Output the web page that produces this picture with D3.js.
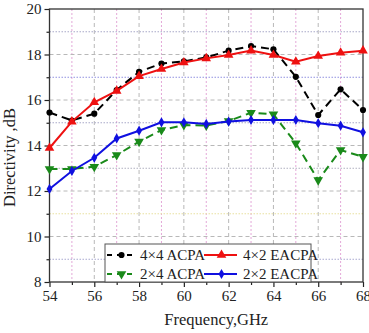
<!DOCTYPE html>
<html><head><meta charset="utf-8">
<script src="https://cdn.jsdelivr.net/npm/d3@7/dist/d3.min.js"></script>
<style>body{margin:0;background:#fff}svg{display:block}</style>
</head><body>
<script>
const freq = [54,55,56,57,58,59,60,61,62,63,64,65,66,67,68];
const acpa44 = [15.45,15.1,15.4,16.44,17.24,17.6,17.7,17.87,18.17,18.37,18.23,17.02,15.34,16.47,15.56];
const eacpa42 = [13.89,15.05,15.9,16.4,17.05,17.36,17.65,17.83,17.98,18.17,17.98,17.68,17.93,18.08,18.17];
const acpa24 = [12.97,12.97,13.07,13.58,14.17,14.68,14.9,14.88,15.08,15.44,15.37,14.1,12.48,13.8,13.5];
const eacpa22 = [12.09,12.88,13.46,14.31,14.65,15.02,15.02,14.95,15.05,15.12,15.12,15.12,14.98,14.87,14.58];
const xTicks = [54,56,58,60,62,64,66,68];
const yTicks = [8,10,12,14,16,18,20];
const seriesNames = ["4×4 ACPA","4×2 EACPA","2×4 ACPA","2×2 EACPA"];

const W=369,H=333;
const L=49.5,R=363,T=9,B=282;
const svg=d3.select("body").append("svg").attr("width",W).attr("height",H);
const x=d3.scaleLinear().domain([54,68]).range([L,R]);
const y=d3.scaleLinear().domain([8,20]).range([B,T]);

// grid
const gx=svg.append("g");
d3.range(55,68,1).forEach(v=>{
  const odd=v%2===1;
  gx.append("line").attr("x1",x(v)).attr("x2",x(v)).attr("y1",T).attr("y2",B)
    .attr("stroke",odd?"#e4a8d8":"#b8b8b8").attr("stroke-width",1)
    .attr("stroke-dasharray",odd?"2,2":"4,3");
});
const hcol={19:"#a8a8c8",17:"#9090e0",15:"#a8a8c8",13:"#b0b0c0",11:"#e8e0a0",9:"#a8a8d0"};
d3.range(9,20,1).forEach(v=>{
  const odd=v%2===1;
  gx.append("line").attr("x1",L).attr("x2",R).attr("y1",y(v)).attr("y2",y(v))
    .attr("stroke",odd?hcol[v]:"#b8b8b8").attr("stroke-width",1)
    .attr("stroke-dasharray",odd?"1.5,1.5":"4,3");
});

// axes
const font="'Liberation Serif','Times New Roman',serif";
const ax=svg.append("g").attr("transform",`translate(0,${B})`)
  .call(d3.axisBottom(x).tickValues(xTicks).tickSize(5).tickPadding(3).tickFormat(d3.format("d")));
const axm=svg.append("g").attr("transform",`translate(0,${B})`)
  .call(d3.axisBottom(x).tickValues(d3.range(55,68,2)).tickSize(3).tickFormat(""));
const ay=svg.append("g").attr("transform",`translate(${L},0)`)
  .call(d3.axisLeft(y).tickValues(yTicks).tickSize(5).tickPadding(3).tickFormat(d3.format("d")));
const aym=svg.append("g").attr("transform",`translate(${L},0)`)
  .call(d3.axisLeft(y).tickValues(d3.range(9,20,2)).tickSize(3).tickFormat(""));
[ax,axm,ay,aym].forEach(a=>{
  a.select(".domain").remove();
  a.selectAll("line").attr("stroke","#222").attr("stroke-width",1.2);
  a.selectAll("text").attr("font-family",font).attr("font-size",15).attr("fill","#222");
});
svg.append("rect").attr("x",L).attr("y",T).attr("width",R-L).attr("height",B-T)
  .attr("fill","none").attr("stroke","#333").attr("stroke-width",1.3);

// series
const line=d3.line().x((d,i)=>x(freq[i])).y(d=>y(d));
const S=[
  {name:seriesNames[0],data:acpa44,color:"#000000",dash:"8,5",sym:d3.symbolCircle,size:30},
  {name:seriesNames[1],data:eacpa42,color:"#ee1111",dash:null,sym:d3.symbolTriangle,size:40},
  {name:seriesNames[2],data:acpa24,color:"#1a8a1a",dash:"8,5",sym:d3.symbolTriangle,size:40,rot:180},
  {name:seriesNames[3],data:eacpa22,color:"#1010e0",dash:null,sym:d3.symbolDiamond,size:30}
];
const drawOrder=[0,2,3,1];
drawOrder.forEach(k=>{
  const s=S[k];
  const g=svg.append("g");
  g.append("path").attr("d",line(s.data)).attr("fill","none").attr("stroke",s.color)
    .attr("stroke-width",2).attr("stroke-dasharray",s.dash);
  g.selectAll("path.m").data(s.data).join("path").attr("class","m")
    .attr("d",d3.symbol().type(s.sym).size(s.size))
    .attr("transform",(d,i)=>`translate(${x(freq[i])},${y(d)}) rotate(${s.rot||0})`)
    .attr("fill",s.color);
});

// legend
const lg=svg.append("g");
lg.append("rect").attr("x",105).attr("y",244).attr("width",206).attr("height",B-244)
  .attr("fill","#fff").attr("stroke","#555").attr("stroke-width",1);
const pos=[[107,255],[204,255],[107,274],[204,274]];
S.forEach((s,k)=>{
  const [px,py]=pos[k];
  const ln = k%2===0 ? 27 : 33;
  lg.append("line").attr("x1",px).attr("x2",px+ln).attr("y1",py).attr("y2",py)
    .attr("stroke",s.color).attr("stroke-width",2).attr("stroke-dasharray",s.dash?"5,5":null);
  lg.append("path").attr("d",d3.symbol().type(s.sym).size(s.size)())
    .attr("transform",`translate(${px+ln/2+1},${py}) rotate(${s.rot||0})`).attr("fill",s.color);
  lg.append("text").attr("x",px+ln+6).attr("y",py+5).text(s.name)
    .attr("font-family",font).attr("font-size",15).attr("fill","#222");
});

// axis labels
svg.append("text").attr("x",(L+R)/2+10).attr("y",325).attr("text-anchor","middle")
  .attr("font-family",font).attr("font-size",16.5).attr("fill","#222").text("Frequency,GHz");
svg.append("text").attr("transform",`translate(15,${(T+B)/2+12}) rotate(-90)`).attr("text-anchor","middle")
  .attr("font-family",font).attr("font-size",16.5).attr("fill","#222").text("Directivity ,dB");
</script>
</body></html>
